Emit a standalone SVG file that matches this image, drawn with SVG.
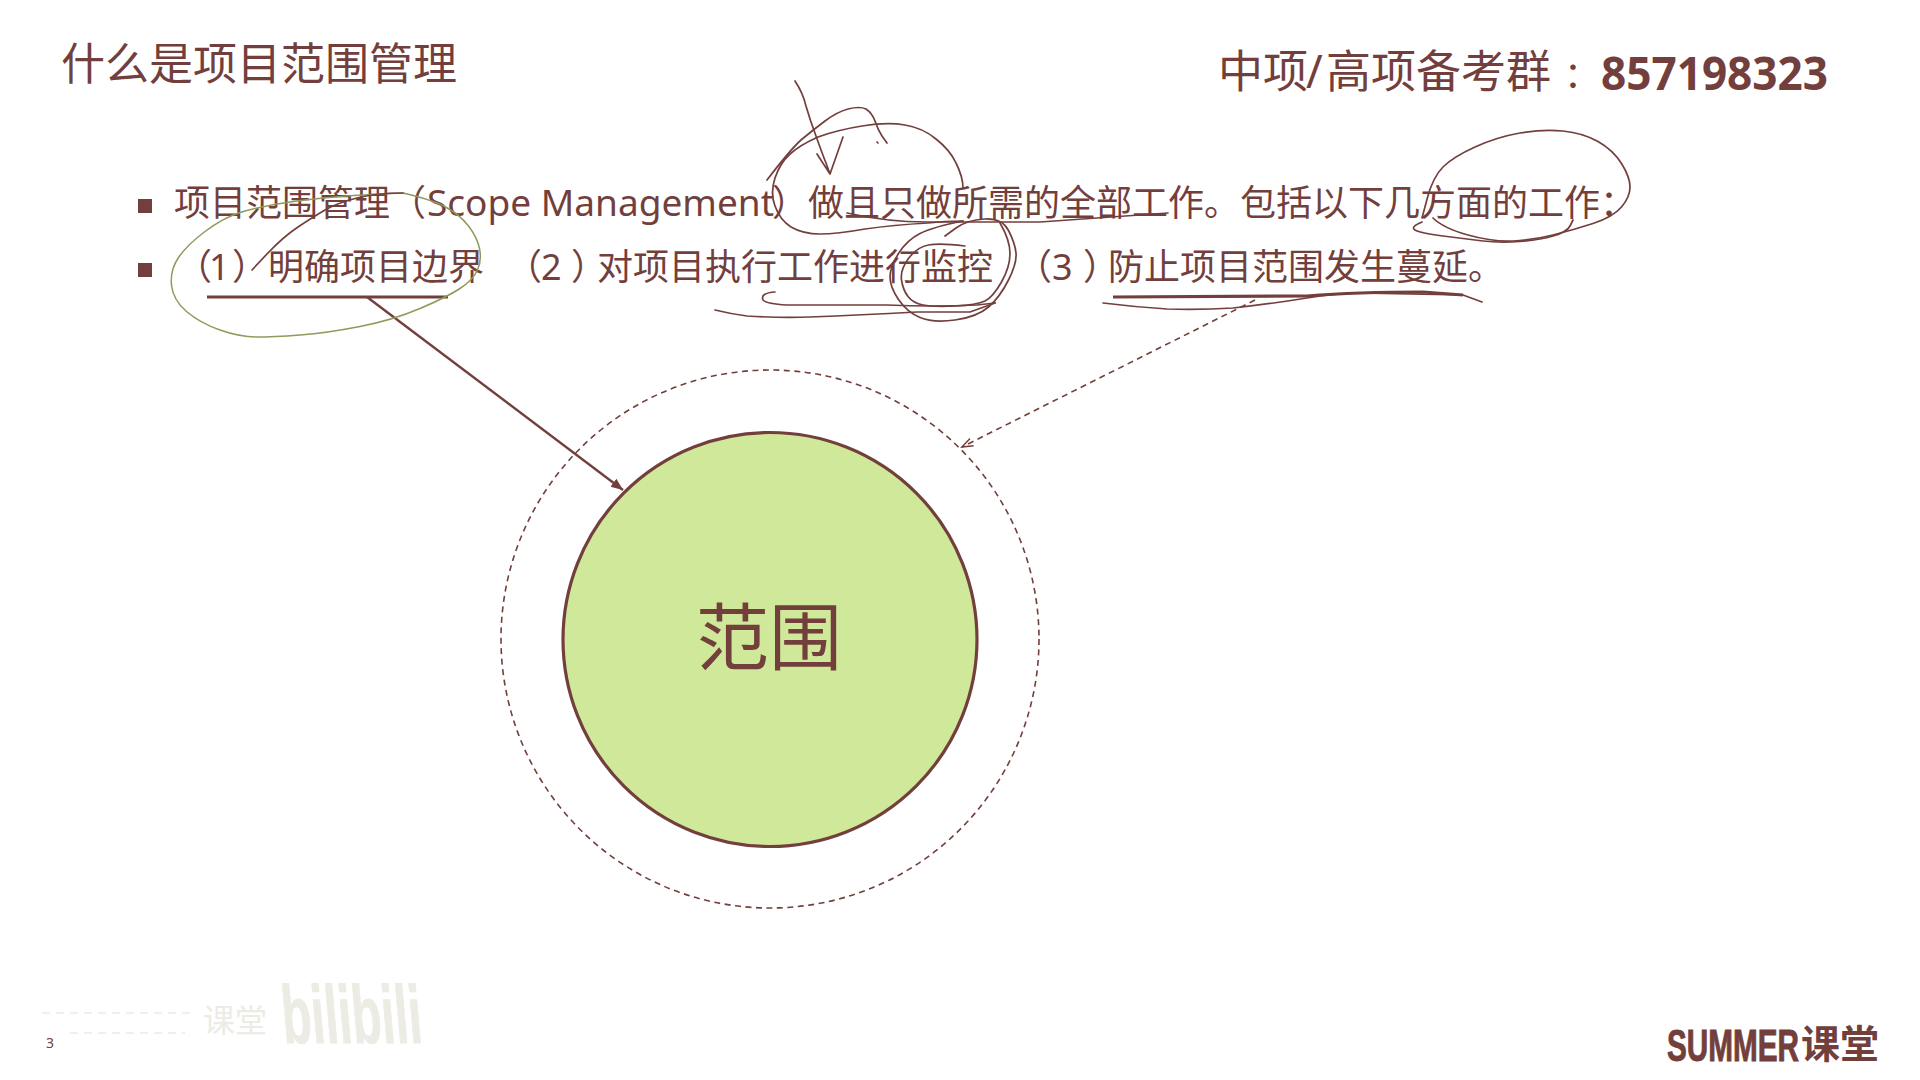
<svg xmlns="http://www.w3.org/2000/svg" width="1920" height="1080" viewBox="0 0 1920 1080">
<style>
text{fill:#733f3d;font-family:"Noto Sans CJK SC","Noto Sans",sans-serif}
.lat{font-family:"Noto Sans","Noto Sans CJK SC",sans-serif}
.body{font-size:36px}
.hand{fill:none;stroke:#733f3d;stroke-width:1.7;stroke-linecap:round;stroke-linejoin:round}
.thin{stroke:#8f9a5c;stroke-width:1.5}
.rule{fill:none;stroke:#733f3d;stroke-width:3.2}
.bul{fill:#733f3d}
</style>
<defs>
<marker id="arrS" markerUnits="userSpaceOnUse" markerWidth="14" markerHeight="12" refX="12" refY="5" orient="auto"><path d="M0 0L12 5L0 10z" fill="#733f3d"/></marker>
<marker id="arrD" markerUnits="userSpaceOnUse" markerWidth="14" markerHeight="12" refX="11" refY="5" orient="auto"><path d="M0 1L11 5L0 9" fill="none" stroke="#733f3d" stroke-width="1.5"/></marker>
</defs>
<rect width="1920" height="1080" fill="#fff"/>
<g id="watermark">
<path d="M42 1013H190M70 1033H185" fill="none" stroke="#ecece4" stroke-width="1.5" stroke-dasharray="8 6"/>
<text x="203" y="1032" font-size="32" style="fill:#ecece4">课堂</text>
<text transform="translate(284 1043) skewX(5)" font-size="82" font-weight="700" textLength="140" lengthAdjust="spacingAndGlyphs" stroke="#ecece4" stroke-width="1" style="fill:#ecece4;font-family:'Liberation Sans',sans-serif">bilibili</text>
</g>
<g id="title"><text x="61" y="80" font-size="44">什么是项目范围管理</text></g>
<g id="contact">
<text x="1218" y="88" font-size="45">中项<tspan class="lat" x="1306">/</tspan><tspan x="1326">高项备考群</tspan></text>
<text x="1564" y="88" font-size="36">：</text>
<text class="lat" x="1601" y="90" font-size="46" font-weight="700" textLength="227" lengthAdjust="spacingAndGlyphs">857198323</text>
</g>
<g id="bullet-1">
<rect class="bul" x="138" y="199" width="14" height="14"/>
<text class="body" x="174" y="216">项目范围管理（<tspan class="lat" x="427" textLength="347" lengthAdjust="spacingAndGlyphs">Scope Management</tspan><tspan x="772">）</tspan><tspan x="808">做且只做所需的全部工作。包括以下几方面的工作：</tspan></text>
</g>
<g id="bullet-2">
<rect class="bul" x="138" y="263" width="14" height="14"/>
<text class="body" x="176" y="280">（<tspan class="lat" x="209">1</tspan><tspan x="232">）</tspan><tspan x="268">明确项目边界</tspan></text>
<text class="body" x="506" y="280">（<tspan class="lat" x="541">2</tspan><tspan x="571">）</tspan><tspan x="597">对项目执行工作进行监控</tspan></text>
<text class="body" x="1016" y="280">（<tspan class="lat" x="1052">3</tspan><tspan x="1083">）</tspan><tspan x="1108">防止项目范围发生蔓延。</tspan></text>
</g>
<g id="node-outer"><circle cx="770" cy="639" r="269" fill="none" stroke="#733f3d" stroke-width="1.6" stroke-dasharray="6 4.5"/></g>
<g id="node-scope">
<circle cx="770" cy="639.5" r="207" fill="#cfe899" stroke="#733f3d" stroke-width="3.2"/>
<text x="696" y="664" font-size="73">范围</text>
</g>
<g id="connectors">
<path class="rule" d="M207 297H448"/>
<path d="M367 297L623 490" fill="none" stroke="#733f3d" stroke-width="2.4" marker-end="url(#arrS)"/>
<path d="M1255 300L962 447" fill="none" stroke="#733f3d" stroke-width="1.6" stroke-dasharray="6 4.5" marker-end="url(#arrD)"/>
</g>
<g id="handwriting">
<path class="hand thin" d="M403 193Q330 196 293.5 201.5Q257 207 240 212.5Q223 218 205 231.5Q187 245 178.5 257.5Q170 270 171.5 285Q173 300 186.5 311.5Q200 323 220 330Q240 337 256.5 337Q273 337 300 335Q327 333 360 326.5Q393 320 420 308.5Q447 297 460 288.5Q473 280 477.5 270Q482 260 479.5 248.5Q477 237 468.5 226Q460 215 446.5 207.5Q433 200 403 193"/>
<path class="hand" d="M252 270L267 254Q283 237 298 227Q313 217 325 210Q337 203 357 198Q377 193 403 193"/>
<path class="hand" d="M963 188Q963 177 956 163Q950 150 936 139Q923 128 905 125Q887 122 862 126Q837 130 818 137Q800 145 790 154Q780 163 775 178Q770 193 775 206Q780 220 791 227Q803 234 820 234Q837 234 865 229Q893 225 928 223Q945 221 963 221"/>
<path class="hand" d="M795 81Q803 93 806 106Q810 120 816 136Q822 153 826 163L830 174L843 137M817 154L830 174"/>
<path class="hand" d="M767 180Q790 150 801 140Q813 130 825 121Q837 112 848 109Q860 106 866 109Q872 113 875 121Q878 130 882 136L887 143M877 142L878 143"/>
<path class="hand" d="M847 213Q887 222 927 222L1040 222Q1100 218 1168 213"/>
<path class="hand" d="M945 236L956 228Q967 220 984.5 219Q1002 218 1008.5 230.5Q1015 243 1016 253Q1017 263 1008.5 280Q1000 297 988.5 307Q977 317 955 320Q933 323 920 317.5Q907 312 898.5 299.5Q890 287 890 277Q890 267 898.5 253.5Q907 240 920 233.5Q933 227 963 221"/>
<path class="hand" d="M1000 223Q1010 240 1010 253.5Q1010 267 1001.5 282Q993 297 985 301Q977 305 955 306Q933 307 923 305Q913 303 908 296.5Q903 290 901.5 280Q900 270 908.5 258.5Q917 247 928.5 245Q940 243 965 246"/>
<path class="hand" d="M775 292Q760 293 763 300Q767 304 787 305L887 305Q933 307 977 305L995 303"/>
<path class="hand" d="M715 310Q731 314 747 316Q780 318 810 317Q860 315 917 312L970 312L995 303"/>
<path class="hand" d="M1422 218L1427.5 197.5Q1433 177 1443 167Q1453 157 1475 147Q1497 137 1520 133Q1543 129 1563 131Q1583 133 1598 141.5Q1613 150 1621.5 163.5Q1630 177 1630 187Q1630 197 1621.5 207Q1613 217 1593 223.5Q1573 230 1553 235Q1533 240 1513 241Q1493 242 1468 235Q1443 228 1433 218"/>
<path class="hand" d="M1422 222Q1410 227 1415 230Q1420 233 1443 236Q1467 239 1483 241Q1500 243 1520 241.5Q1540 240 1553 236Q1567 232 1570 226L1573 220"/>
<path class="rule" d="M1113 297L1307 296Q1357 292 1423 292L1463 295"/>
<path class="hand" d="M1463 295L1482 302M1103 303Q1135 307 1167 309Q1200 310 1233 308Q1270 304 1307 298Q1330 294 1357 293L1463 295"/>
</g>
<g id="page-number"><text class="lat" x="46" y="1048" font-size="14">3</text></g>
<g id="logo">
<text transform="translate(1667 1061) scale(.66 1)" font-size="45" font-weight="700" stroke="#733f3d" stroke-width="1" style="font-family:'Liberation Sans',sans-serif">SUMMER</text>
<text x="1801" y="1058" font-size="39" font-weight="700">课堂</text>
</g>
</svg>
